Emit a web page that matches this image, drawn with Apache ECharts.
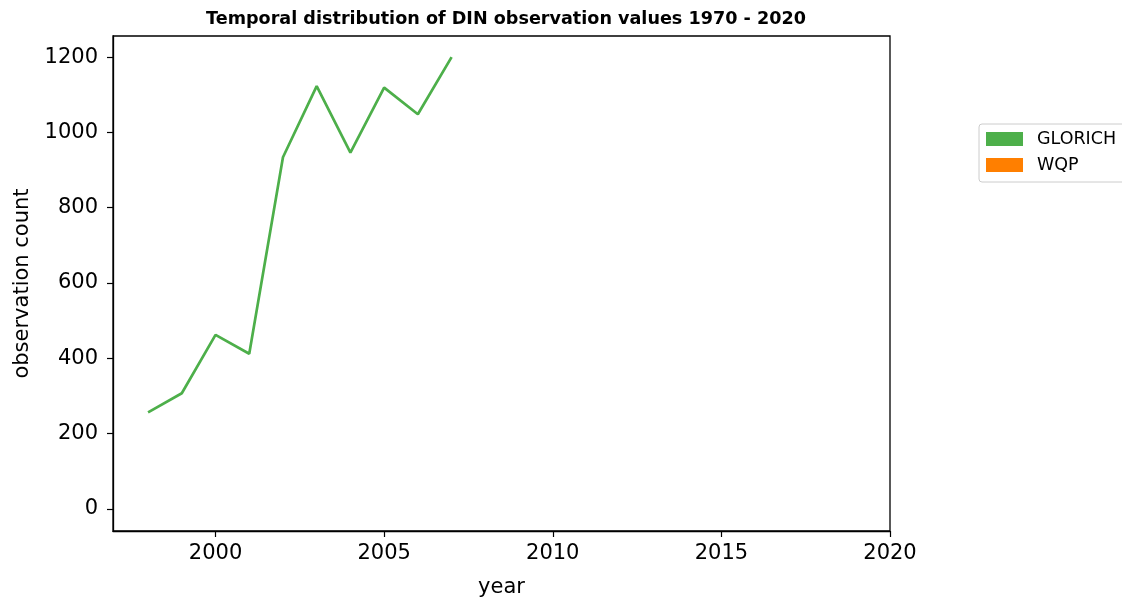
<!DOCTYPE html>
<html>
<head>
<meta charset="utf-8">
<script src="https://cdn.jsdelivr.net/npm/echarts@6/dist/echarts.min.js"></script>
<style>
  html, body { margin: 0; padding: 0; background: #fff; }
  #main { width: 1122px; height: 603px; }
</style>
</head>
<body>
<div id="main"></div>
<script>
// 数据
var years = [1998, 1999, 2000, 2001, 2002, 2003, 2004, 2005, 2006, 2007];
var glorich = [256, 307, 462, 412, 934, 1123, 946, 1119, 1048, 1200];
var wqp = [];
var xTicks = [2000, 2005, 2010, 2015, 2020];
var yTicks = [0, 200, 400, 600, 800, 1000, 1200];

var myChart = echarts.init(document.getElementById('main'));

var font = 'DejaVu Sans';
var plain = function (v) { return String(v); };
var option = {
    animation: false,
    title: {
        text: 'Temporal distribution of DIN observation values 1970 - 2020',
        left: 501, top: 5, textAlign: 'center',
        textStyle: { fontFamily: font, fontSize: 17.6, fontWeight: 'bold', color: '#000' }
    },
    legend: {
        data: ['GLORICH', 'WQP'],
        orient: 'vertical',
        left: 979, top: 124,
        icon: 'rect',
        itemWidth: 37, itemHeight: 14,
        itemGap: 8,
        padding: [6, 30, 8, 7],
        borderColor: '#ccc', borderWidth: 1, borderRadius: 3,
        textStyle: { fontFamily: font, fontSize: 17.5, color: '#000', padding: [0, 0, 0, 9] }
    },
    grid: {
        left: 113, right: 232, top: 36, bottom: 71,
        show: true, borderColor: '#000', borderWidth: 1.3
    },
    xAxis: {
        type: 'value', min: 1996.96, max: 2020,
        name: 'year', nameLocation: 'middle', nameGap: 46,
        nameTextStyle: { fontFamily: font, fontSize: 21, color: '#000' },
        axisLine: { onZero: false, lineStyle: { color: '#000', width: 1.3 } },
        axisTick: { customValues: xTicks, length: 6, lineStyle: { color: '#000', width: 1.2 } },
        axisLabel: { customValues: xTicks, formatter: plain, margin: 12, fontFamily: font, fontSize: 21, color: '#000' },
        splitLine: { show: false }
    },
    yAxis: {
        type: 'value', min: -59, max: 1256,
        name: 'observation count', nameLocation: 'middle', nameGap: 80, nameRotate: 90,
        nameTextStyle: { fontFamily: font, fontSize: 21, color: '#000' },
        axisLine: { show: true, onZero: false, lineStyle: { color: '#000', width: 1.3 } },
        axisTick: { show: true, customValues: yTicks, length: 6, lineStyle: { color: '#000', width: 1.2 } },
        axisLabel: { customValues: yTicks, formatter: plain, margin: 15, fontFamily: font, fontSize: 21, color: '#000', padding: [6, 0, 0, 0] },
        splitLine: { show: false }
    },
    series: [{
        name: 'GLORICH',
        type: 'line',
        data: years.map(function (y, i) { return [y, glorich[i]]; }),
        showSymbol: false,
        itemStyle: { color: '#4daf4a' },
        lineStyle: { color: '#4daf4a', width: 2.7 }
    }, {
        name: 'WQP',
        type: 'line',
        data: wqp,
        showSymbol: false,
        itemStyle: { color: '#ff7f00' },
        lineStyle: { color: '#ff7f00', width: 2.7 }
    }]
};

myChart.setOption(option);
</script>
</body>
</html>
